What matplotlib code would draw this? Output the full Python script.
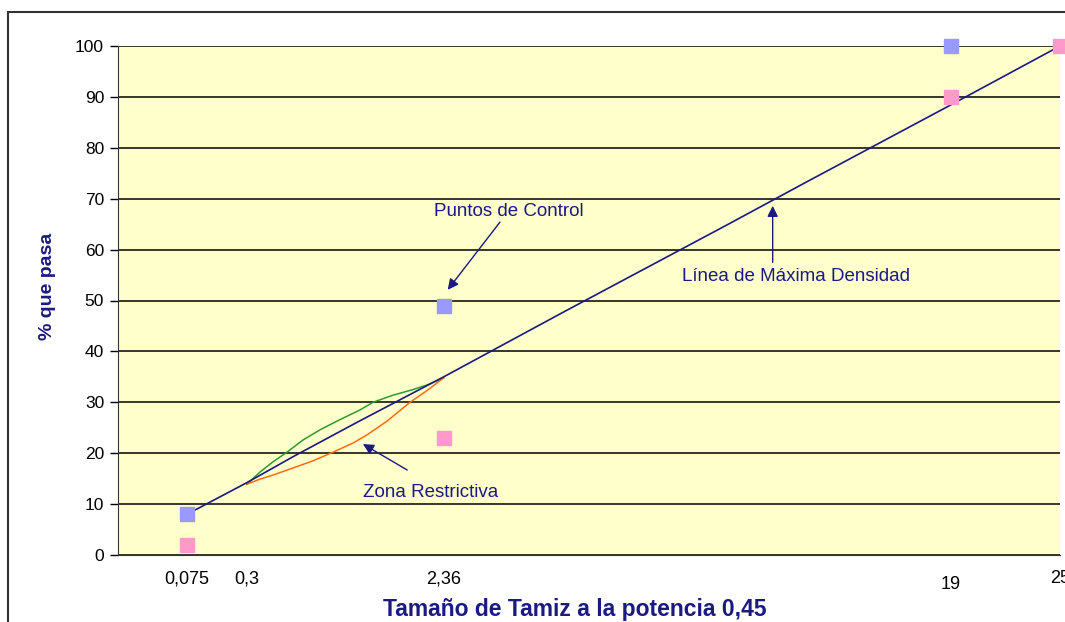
import matplotlib
matplotlib.use('Agg')
import matplotlib.pyplot as plt
from matplotlib.patches import Rectangle

# sieve sizes (mm) and % passing
ctrl_upper_size = [0.075, 2.36, 19]
ctrl_upper_pct = [8, 49, 100]
ctrl_lower_size = [0.075, 2.36, 19, 25]
ctrl_lower_pct = [2, 23, 90, 100]

max_dens_size = [0.075, 0.3, 0.6, 1.18, 2.36, 4.75, 9.5, 12.5, 19, 25]
max_dens_pct = [8.0, 14.2, 19.4, 26.0, 35.0, 47.8, 64.9, 73.4, 88.4, 100]

zona_sup_size = [0.3, 0.373, 0.453, 0.549, 0.672, 0.817, 1.007, 1.22, 1.37, 1.621, 1.894, 2.099, 2.36]
zona_sup_pct = [13.9, 16.3, 18.3, 20.2, 22.6, 24.6, 26.6, 28.5, 30.0, 31.4, 32.5, 33.4, 34.8]
zona_inf_size = [0.3, 0.373, 0.453, 0.594, 0.755, 0.938, 1.143, 1.30, 1.543, 1.852, 2.099, 2.36]
zona_inf_pct = [13.9, 14.9, 15.7, 17.1, 18.5, 20.2, 22.0, 23.6, 26.3, 30.0, 32.3, 34.8]

tick_sizes = [0.075, 0.3, 2.36, 19, 25]
tick_labels = ['0,075', '0,3', '2,36', '19', '25']

navy = '#1a1a80'
plt.rcParams['font.family'] = ['Liberation Sans', 'DejaVu Sans']

fig = plt.figure(figsize=(10.65, 6.22), dpi=100)
ax = fig.add_axes([118/1065, 67/622, 942/1065, 509/622])
ax.set_facecolor('#ffffcc')
fig.patches.append(Rectangle((8/1065, -0.2), 1.2, 0.2 + 610/622, transform=fig.transFigure,
                             fill=False, edgecolor='#333333', lw=1.5))

ax.set_xscale('function', functions=(lambda d: d ** 0.45, lambda x: x ** (1 / 0.45)))
ax.set_xlim(0, 25)
ax.set_ylim(0, 100)

for y in range(0, 101, 10):
    ax.axhline(y, color='black', lw=1.1, zorder=1)

ax.plot(max_dens_size, max_dens_pct, color=navy, lw=1.2, zorder=3)
ax.plot(zona_sup_size, zona_sup_pct, color='#2e9a2e', lw=1.1, zorder=2)
ax.plot(zona_inf_size, zona_inf_pct, color='#ff6a10', lw=1.1, zorder=2)
ax.plot(ctrl_upper_size, ctrl_upper_pct, 's', color='#9999ff', ms=9.5, zorder=4, clip_on=False)
ax.plot(ctrl_lower_size, ctrl_lower_pct, 's', color='#ff99cc', ms=9.5, zorder=4, clip_on=False)

ax.set_yticks(range(0, 101, 10))
ax.tick_params(axis='y', length=6, width=1, labelsize=12.5, pad=4)
ax.set_xticks(tick_sizes)
ax.set_xticklabels(tick_labels, fontsize=13,
                   family=['Liberation Sans Narrow', 'Liberation Sans', 'DejaVu Sans'])
ax.tick_params(axis='x', length=0, pad=11)
ax.get_xticklabels()[3].set_y(-0.012)
ax.xaxis.set_minor_locator(plt.NullLocator())

for s in ['top', 'right']:
    ax.spines[s].set_visible(False)
ax.spines['left'].set_color('#333333')
ax.spines['bottom'].set_color('#333333')

ax.set_ylabel('% que pasa', fontsize=14, fontweight='bold', color=navy, labelpad=14)
ax.yaxis.label.set_y(0.528)
ax.set_xlabel('Tamaño de Tamiz a la potencia 0,45', fontsize=16.5, fontweight='bold',
              color=navy, labelpad=3)
ax.xaxis.label.set_x(0.485)

arrow = dict(arrowstyle='-|>', color=navy, lw=1, mutation_scale=16, shrinkA=0, shrinkB=0)
ax.annotate('', xy=(0.350, 0.521), xytext=(0.4055, 0.654), xycoords='axes fraction',
            arrowprops=arrow, zorder=5)
ax.text(0.415, 0.674, 'Puntos de Control', transform=ax.transAxes, ha='center',
        va='center', fontsize=13.5, color=navy)
ax.annotate('', xy=(0.695, 0.686), xytext=(0.695, 0.575), xycoords='axes fraction',
            arrowprops=arrow, zorder=5)
ax.text(0.720, 0.548, 'Línea de Máxima Densidad', transform=ax.transAxes, ha='center',
        va='center', fontsize=13.5, color=navy)
ax.annotate('', xy=(0.260, 0.218), xytext=(0.307, 0.167), xycoords='axes fraction',
            arrowprops=arrow, zorder=5)
ax.text(0.332, 0.122, 'Zona Restrictiva', transform=ax.transAxes, ha='center',
        va='center', fontsize=13.5, color=navy)

fig.savefig('out.png', dpi=100)
